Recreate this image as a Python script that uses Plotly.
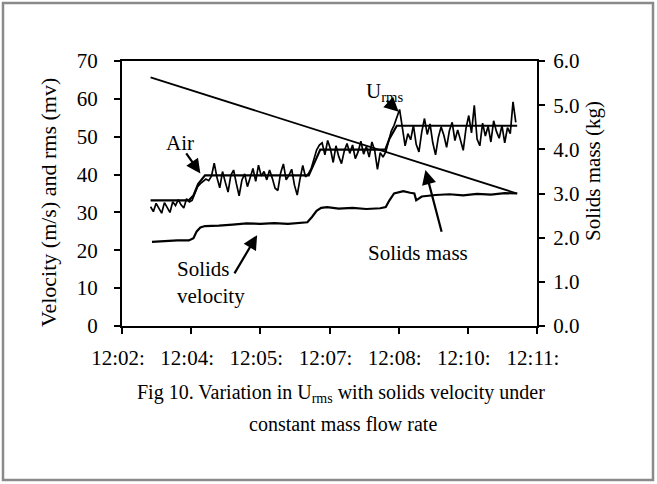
import plotly.graph_objects as go

# ---------------- data ----------------
x_ticks = [0, 1.5, 3, 4.5, 6, 7.5, 9]
x_labels = ["12:02:", "12:04:", "12:05:", "12:07:", "12:08:", "12:10:", "12:11:"]

# U_rms signal (mV), sampled every 0.06 min from t = 0.62
urms_t0 = 0.62
urms_dt = 0.06
urms = [
    31.5, 30.2, 32.4, 31.0, 29.8, 32.6, 31.4, 30.0, 32.8, 31.8, 33.4, 32.0, 31.2, 33.6, 32.8,
    33.2, 35.0, 36.8, 37.6, 38.2, 38.8,
    38.4, 39.6, 43.0, 39.2, 36.5, 40.8, 38.0, 35.4, 39.8, 41.2, 37.6, 34.4, 38.5, 40.2, 36.8,
    39.4, 41.6, 38.2, 42.5, 39.6, 40.8, 38.6, 41.2, 39.0, 36.4, 35.8, 40.4, 42.8, 38.6, 39.8,
    41.4, 37.2, 34.6, 38.8, 42.4, 39.4, 40.2,
    41.5, 44.0, 46.5, 47.8,
    48.4, 45.2, 49.0, 46.8, 43.2, 47.6, 44.8, 42.9, 46.2, 48.2, 45.6, 47.8, 44.2, 46.0, 48.8,
    45.4, 47.4, 44.6, 48.6, 46.4, 41.4, 45.8, 44.6,
    46.0, 48.5, 51.5, 53.0, 55.0,
    57.2, 52.4, 47.6, 50.8, 49.2, 53.0, 48.0, 46.0, 51.2, 54.8, 50.6, 53.4, 48.4, 45.2, 49.8,
    52.6, 50.4, 47.2, 51.6, 53.8, 49.0, 51.8, 48.8, 46.4, 52.2, 55.6, 51.0, 58.3, 49.4, 47.6,
    53.6, 50.2, 52.8, 48.6, 54.2, 51.4, 49.6, 53.0, 48.4, 52.4, 50.8, 59.2, 53.8,
]
urms_t = [urms_t0 + urms_dt * i for i in range(len(urms))]

# Air velocity (m/s)
air_t = [0.62, 1.45, 1.55, 1.65, 1.80, 4.05, 4.15, 4.30, 5.71, 5.80, 5.96, 8.57]
air = [33.2, 33.2, 34.5, 37.5, 39.8, 39.8, 42.5, 46.6, 46.6, 49.5, 52.9, 52.9]

# Solids velocity (m/s)
sv_t = [0.65, 0.9, 1.2, 1.45, 1.55, 1.62, 1.70, 1.80, 2.1, 2.4, 2.7, 3.0, 3.3, 3.6, 3.9,
        4.02, 4.12, 4.22, 4.32, 4.45, 4.7, 5.0, 5.3, 5.6, 5.72, 5.80, 5.90, 6.0, 6.1, 6.25,
        6.34, 6.38, 6.5, 6.8, 7.1, 7.4, 7.7, 8.0, 8.3, 8.57]
sv = [22.2, 22.4, 22.6, 22.6, 23.2, 25.0, 26.0, 26.4, 26.5, 26.8, 27.1, 27.0, 27.2, 27.0, 27.2,
      27.4, 28.8, 30.4, 31.2, 31.4, 31.0, 31.2, 30.9, 31.1, 31.4, 33.2, 35.0, 35.4, 35.6, 35.2,
      35.0, 33.2, 34.2, 34.6, 34.8, 34.5, 34.9, 34.7, 35.1, 35.0]

# Solids mass (kg)
mass_t = [0.62, 8.57]
mass = [5.63, 3.0]

# ---------------- layout constants ----------------
W, H = 657, 484
ML, MR, MT, MB = 122, 120, 61, 158
PW, PH = W - ML - MR, H - MT - MB
FONT = "Liberation Serif, Times New Roman, serif"


def px(x):
    return (x - ML) / PW


def py(y):
    return (H - MB - y) / PH


fig = go.Figure()
fig.add_trace(go.Scatter(x=urms_t, y=urms, mode="lines",
                         line=dict(color="black", width=1.7), showlegend=False))
fig.add_trace(go.Scatter(x=air_t, y=air, mode="lines",
                         line=dict(color="black", width=2.2), showlegend=False))
fig.add_trace(go.Scatter(x=sv_t, y=sv, mode="lines",
                         line=dict(color="black", width=2.2), showlegend=False))
fig.add_trace(go.Scatter(x=mass_t, y=mass, mode="lines", yaxis="y2",
                         line=dict(color="black", width=1.8), showlegend=False))

ann = []
C = dict(xanchor="center", yanchor="middle", showarrow=False)
# axis titles
ann.append(dict(text="Velocity (m/s) and rms (mv)", xref="paper", yref="paper",
                x=px(48), y=py(203), textangle=-90,
                font=dict(size=22, color="black", family=FONT), **C))
ann.append(dict(text="Solids mass (kg)", xref="paper", yref="paper",
                x=px(593), y=py(171), textangle=-90,
                font=dict(size=21, color="black", family=FONT), **C))
# caption
ann.append(dict(text="Fig 10. Variation in U<sub>rms</sub> with solids velocity under",
                xref="paper", yref="paper", x=px(341), y=py(393),
                font=dict(size=20, color="black", family=FONT), **C))
ann.append(dict(text="constant mass flow rate", xref="paper", yref="paper",
                x=px(343), y=py(424),
                font=dict(size=20, color="black", family=FONT), **C))
# labels
lab_font = dict(size=21, color="black", family=FONT)
ann.append(dict(text="Air", x=1.26, y=48.3, font=lab_font, **C))
ann.append(dict(text="U<sub>rms</sub>", x=5.69, y=61.8, font=lab_font, **C))
ann.append(dict(text="Solids<br>velocity", x=1.16, y=11.6, xanchor="left", yanchor="middle",
                align="left", showarrow=False, font=lab_font))
ann.append(dict(text="Solids mass", x=6.42, y=19.3, font=lab_font, **C))
# arrows
for (tx, ty, hx, hy) in [(1.37, 46.0, 1.70, 40.3), (5.71, 59.9, 6.0, 56.6),
                         (2.42, 13.5, 2.93, 24.0), (6.94, 24.5, 6.58, 41.2)]:
    ann.append(dict(text="", x=hx, y=hy, ax=tx, ay=ty, axref="x", ayref="y",
                    showarrow=True, arrowhead=2, arrowsize=1.3, arrowwidth=2.2,
                    arrowcolor="black", standoff=0, startstandoff=0))

shapes = [dict(type="rect", xref="paper", yref="paper",
               x0=px(3), x1=px(653), y0=py(480), y1=py(3),
               line=dict(color="#8a8a8a", width=2.5), fillcolor="rgba(0,0,0,0)", layer="below")]

axis_common = dict(showgrid=False, zeroline=False, showline=True, linecolor="black",
                   linewidth=2, ticks="outside", ticklen=6, tickwidth=1.5, tickcolor="black",
                   tickfont=dict(size=21, color="black", family=FONT))

fig.update_layout(
    width=W, height=H, margin=dict(l=ML, r=MR, t=MT, b=MB, autoexpand=False),
    paper_bgcolor="white", plot_bgcolor="white", showlegend=False,
    font=dict(family=FONT, color="black"),
    xaxis=dict(range=[0, 9], tickvals=x_ticks, ticktext=x_labels, mirror=True,
               ticklabelstandoff=6, ticklabelshift=-4, **axis_common),
    yaxis=dict(range=[0, 70], tickvals=[0, 10, 20, 30, 40, 50, 60, 70],
               ticklabelstandoff=12, **axis_common),
    yaxis2=dict(range=[0, 6], overlaying="y", side="right",
                tickvals=[0, 1, 2, 3, 4, 5, 6], tickformat=".1f",
                ticklabelstandoff=4, **axis_common),
    annotations=ann, shapes=shapes,
)

fig.write_html("out.html", config={"displayModeBar": False},
               post_script="document.body.style.margin='0px';")
